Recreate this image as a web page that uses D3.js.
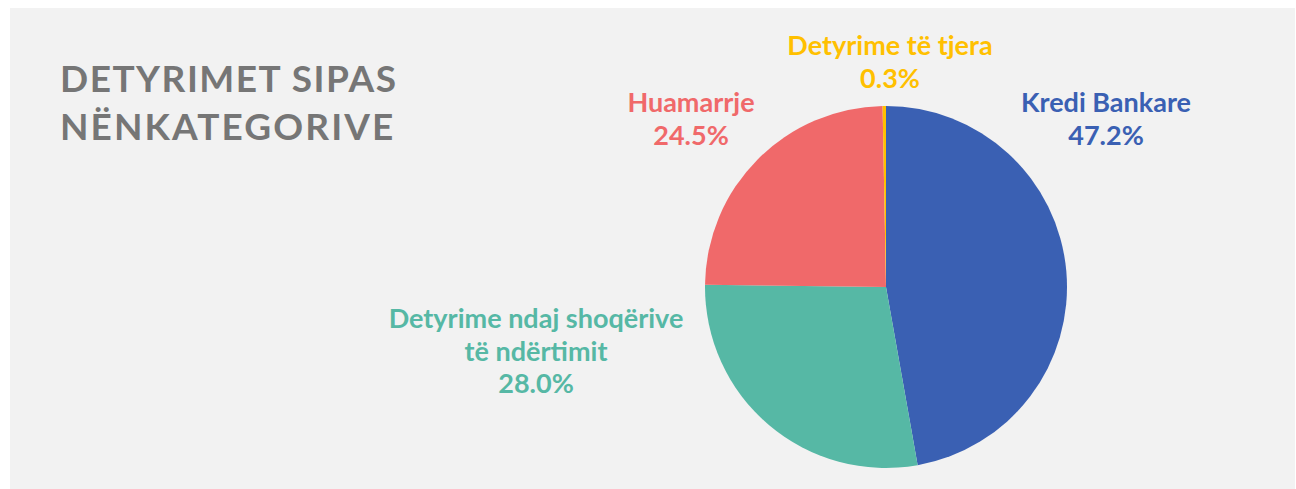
<!DOCTYPE html>
<html>
<head>
<meta charset="utf-8">
<script src="https://cdn.jsdelivr.net/npm/d3@7"></script>
<style>
  html, body { margin: 0; padding: 0; background: #fff; }
  text { font-family: "Lato", "Open Sans", sans-serif; }
</style>
</head>
<body>
<div id="content"></div>
<script>
const categories = ["Kredi Bankare", "Detyrime ndaj shoqërive të ndërtimit", "Huamarrje", "Detyrime të tjera"]
const values = [47.2, 28.0, 24.5, 0.3]
const colors = ["#3A60B3", "#56B8A5", "#F0696A", "#FFC000"]
// label lines, one array per slice (percentage is added as last line)
const labelLines = [
    ["Kredi Bankare"],
    ["Detyrime ndaj shoqërive", "të ndërtimit"],
    ["Huamarrje"],
    ["Detyrime të tjera"],
]
const titleLines = ["DETYRIMET SIPAS", "NËNKATEGORIVE"]

const data = categories.map((c, i) => ({name: c, value: values[i], color: colors[i], lines: labelLines[i]}))

const outerWidth = 1296
const outerHeight = 489
const center = {x: 886, y: 287}
const radius = 181

// where each label block sits (first line baseline), relative to pie center
const labelLayout = [
    {dx: 220, dy: -175},
    {dx: -350, dy: 41},
    {dx: -195, dy: -175},
    {dx: 4, dy: -232},
]

const svg = d3.select("#content").append("svg")
    .attr("width", outerWidth)
    .attr("height", outerHeight)

// panel background
svg.append("rect")
    .attr("x", 10)
    .attr("y", 8)
    .attr("width", 1285)
    .attr("height", outerHeight - 8)
    .style("fill", "#F2F2F2")

// title
svg.append("g")
    .selectAll("text")
    .data(titleLines)
    .enter().append("text")
    .attr("x", 60)
    .attr("y", (d, i) => 92 + i * 48)
    .style("font-size", "37px")
    .style("font-weight", "700")
    .style("letter-spacing", (d, i) => i ? "2.1px" : "1.5px")
    .style("fill", "#767676")
    .text(d => d)

const pie = d3.pie()
    .sort(null)
    .value(d => d.value)

const arc = d3.arc()
    .innerRadius(0)
    .outerRadius(radius)

const wrapper = svg.append("g")
    .attr("transform", `translate(${center.x}, ${center.y})`)

wrapper.selectAll(".slice")
    .data(pie(data))
    .enter().append("path")
    .attr("class", "slice")
    .attr("d", arc)
    .style("fill", d => d.data.color)

// labels
const label = wrapper.selectAll(".label")
    .data(pie(data))
    .enter().append("text")
    .attr("class", "label")
    .attr("text-anchor", "middle")
    .style("font-size", "27px")
    .style("font-weight", "700")
    .style("fill", d => d.data.color)

label.each(function(d, i) {
    const pos = labelLayout[i]
    const lines = d.data.lines.concat([d3.format(".1f")(d.data.value) + "%"])
    d3.select(this).selectAll("tspan")
        .data(lines)
        .enter().append("tspan")
        .attr("x", pos.dx)
        .attr("y", (l, j) => pos.dy + j * 32.5)
        .text(l => l)
})
</script>
</body>
</html>
